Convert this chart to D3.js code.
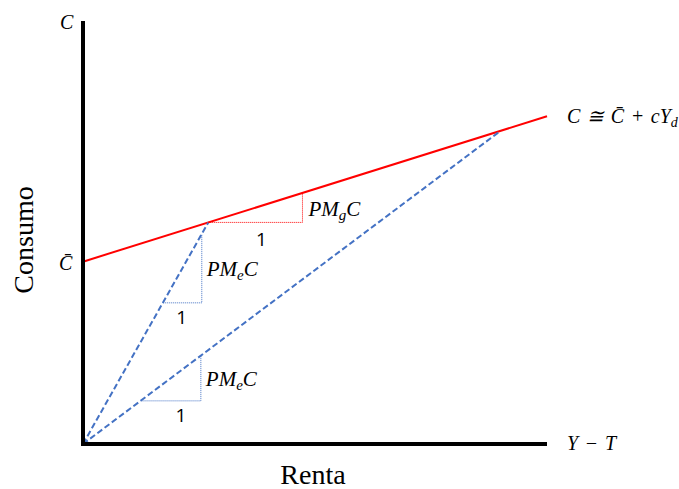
<!DOCTYPE html>
<html>
<head>
<meta charset="utf-8">
<script src="https://cdn.jsdelivr.net/npm/d3@7"></script>
<style>
  body { margin: 0; background: #fff; }
  .math { font-family: "Liberation Serif", "DejaVu Serif", serif; font-style: italic; white-space: pre; }
  .one { font-family: "Open Sans", "Liberation Sans", sans-serif; }
  .title { font-family: "Liberation Serif", "Times New Roman", serif; }
</style>
</head>
<body>
<svg id="chart" width="679" height="489"></svg>
<script>
  // consumption function C = cBar + c * Y
  const cBar = 43
  const c = 0.343

  // points on the consumption line joined to the origin
  const rayPoints = [27, 90]

  // slope triangles: [x0, x1] along each line
  const avgTriangles = [
    { ray: 0, x0: 17.2, x1: 25.6 },
    { ray: 1, x0: 12.4, x1: 25.4 }
  ]
  const margTriangle = { x0: 27, x1: 47.3 }

  const xDomain = [0, 100]
  const yDomain = [0, 100]

  const svg = d3.select("#chart")
  const margin = { top: 20, right: 132, bottom: 45, left: 83 }
  const width = 679, height = 489

  const xScale = d3.scaleLinear().domain(xDomain).range([margin.left, width - margin.right])
  const yScale = d3.scaleLinear().domain(yDomain).range([height - margin.bottom, margin.top])

  const C = y => cBar + c * y
  const line = d3.line().x(d => xScale(d[0])).y(d => yScale(d[1]))

  const addLabel = (x, y, sub) => {
    const lbl = svg.append("text").attr("class", "math")
       .attr("x", x).attr("y", y).attr("font-size", 21)
    lbl.append("tspan").text("PM")
    lbl.append("tspan").attr("font-size", 15).attr("dy", 4).text(sub)
    lbl.append("tspan").attr("dy", -4).text("C")
  }

  // red consumption line
  svg.append("path")
     .attr("d", line([[0, C(0)], [100, C(100)]]))
     .attr("stroke", "#ff0000").attr("stroke-width", 2).attr("fill", "none")

  // dashed rays from origin
  rayPoints.forEach(p => {
    svg.append("path")
       .attr("d", line([[0, 0], [p, C(p)]]))
       .attr("stroke", "#4472c4").attr("stroke-width", 2)
       .attr("stroke-dasharray", "6,3").attr("fill", "none")
  })

  // average propensity triangles
  avgTriangles.forEach(t => {
    const p = rayPoints[t.ray]
    const s = C(p) / p
    svg.append("path")
       .attr("d", line([[t.x0, s * t.x0], [t.x1, s * t.x0], [t.x1, s * t.x1]]))
       .attr("stroke", "#4472c4").attr("stroke-width", 1)
       .attr("stroke-dasharray", "1,1").attr("fill", "none")
    svg.append("text").attr("class", "one")
       .attr("x", xScale(t.x1) - 20).attr("y", yScale(s * t.x0) + 21)
       .attr("text-anchor", "middle").attr("font-size", 19).text("1")
    addLabel(xScale(t.x1) + 5, yScale((s * t.x0 + s * t.x1) / 2) + 8, "e")
  })

  // marginal propensity triangle
  {
    const t = margTriangle
    svg.append("path")
       .attr("d", line([[t.x0, C(t.x0)], [t.x1, C(t.x0)], [t.x1, C(t.x1)]]))
       .attr("stroke", "#ff0000").attr("stroke-width", 1)
       .attr("stroke-dasharray", "1,1").attr("fill", "none")
    svg.append("text").attr("class", "one")
       .attr("x", xScale(t.x1) - 41).attr("y", yScale(C(t.x0)) + 24)
       .attr("text-anchor", "middle").attr("font-size", 19).text("1")
    addLabel(xScale(t.x1) + 6, yScale((C(t.x0) + C(t.x1)) / 2) + 8, "g")
  }

  // axes (plain thick lines, no ticks)
  svg.append("line")
     .attr("x1", xScale(0)).attr("x2", xScale(0))
     .attr("y1", yScale(100) + 1).attr("y2", yScale(0) + 2)
     .attr("stroke", "#000").attr("stroke-width", 4)
  svg.append("line")
     .attr("x1", xScale(0) - 2).attr("x2", xScale(100))
     .attr("y1", yScale(0)).attr("y2", yScale(0))
     .attr("stroke", "#000").attr("stroke-width", 4)

  // math labels
  svg.append("text").attr("class", "math")
     .attr("x", 60).attr("y", 29).attr("font-size", 20).text("C")
  svg.append("text").attr("class", "math")
     .attr("x", 59).attr("y", yScale(cBar) + 8).attr("font-size", 20).text("C\u0304")
  svg.append("text").attr("class", "math")
     .attr("x", 567).attr("y", yScale(0) + 6).attr("font-size", 20).text("Y\u2004\u2212\u2004T")
  {
    const eq = svg.append("text").attr("class", "math")
       .attr("x", 567).attr("y", yScale(C(100)) + 7).attr("font-size", 20)
    eq.append("tspan").text("C\u2004\u2245\u2004C\u0304\u2004+\u2004cY")
    eq.append("tspan").attr("font-size", 14).attr("dy", 4).text("d")
  }

  // axis titles
  svg.append("text").attr("class", "title")
     .attr("x", 313).attr("y", 484)
     .attr("text-anchor", "middle").attr("font-size", 28).text("Renta")
  svg.append("text").attr("class", "title")
     .attr("transform", `translate(33, 240) rotate(-90)`)
     .attr("text-anchor", "middle").attr("font-size", 28).text("Consumo")
</script>
</body>
</html>
